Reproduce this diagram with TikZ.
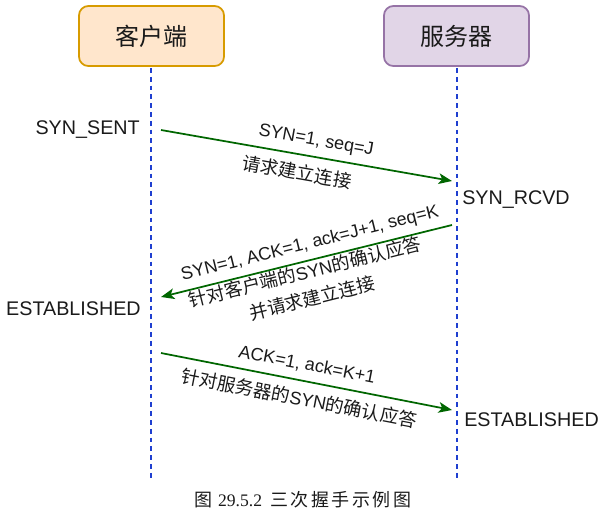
\documentclass[tikz,border=0pt]{standalone}
\usepackage{fontspec}
\setmainfont{Liberation Sans}
\newfontfamily\cjkbase{Noto Sans CJK SC}
\newcommand{\cjk}{\cjkbase\fontsize{13.8}{16}\selectfont}
\newfontfamily\capcjk[LetterSpace=14]{Noto Sans CJK SC}
\newfontfamily\capserif{Liberation Serif}
\usetikzlibrary{arrows.meta}
\definecolor{clientfill}{HTML}{FFE6CC}
\definecolor{clientdraw}{HTML}{D79B00}
\definecolor{serverfill}{HTML}{E1D5E7}
\definecolor{serverdraw}{HTML}{9673A6}
\definecolor{lifeblue}{HTML}{1F3FD0}
\definecolor{msggreen}{HTML}{006600}
\definecolor{txt}{HTML}{1A1A1A}
\tikzset{
  actor/.style={rounded corners=7pt, line width=1.3pt, minimum width=108.75pt, minimum height=45pt,
    font=\cjkbase\fontsize{18}{20}\selectfont, text=txt},
  clientbox/.style={actor, fill=clientfill, draw=clientdraw},
  serverbox/.style={actor, fill=serverfill, draw=serverdraw},
  life/.style={draw=lifeblue, line width=1.4pt, dash pattern=on 3.6pt off 3pt},
  msg/.style={draw=msggreen, line width=1.3pt, -{Stealth[length=10pt,width=8pt,inset=2.5pt]}},
  state/.style={font=\fontsize{14.8}{17}\selectfont, text=txt, inner sep=0pt},
  lbl/.style={font=\fontsize{13.5}{16}\selectfont, text=txt, inner sep=0pt, align=center},
}
\begin{document}
\begin{tikzpicture}[x=0.75pt,y=-0.75pt]
\useasboundingbox (0,0) rectangle (615,519);
% actors
\node[clientbox] (client) at (151.5,36) {客户端};
\node[serverbox] (server) at (456.5,36) {服务器};
% lifelines
\coordinate (ctop) at (151,68);
\coordinate (cbot) at (151,480);
\coordinate (stop) at (457,68);
\coordinate (sbot) at (457,480);
\draw[life] (ctop) -- (cbot);
\draw[life] (stop) -- (sbot);
% message endpoints
\coordinate (m1s) at (161,130);
\coordinate (m1e) at (452,181);
\coordinate (m2s) at (452,225);
\coordinate (m2e) at (161,297);
\coordinate (m3s) at (161,353);
\coordinate (m3e) at (452,410);
\draw[msg] (m1s) -- (m1e);
\draw[msg] (m2s) -- (m2e);
\draw[msg] (m3s) -- (m3e);
% labels
\node[lbl, rotate=-10] (l1a) at (316,141) {SYN=1, seq=J};
\node[lbl, rotate=-10] (l1b) at (297,172) {\cjk 请求建立连接};
\node[lbl, rotate=14] (l2a) at (310,244) {SYN=1, ACK=1, ack=J+1, seq=K};
\node[lbl, rotate=14] (l2b) at (305,272) {{\cjk 针对客户端的}SYN{\cjk 的确认应答}};
\node[lbl, rotate=14] (l2c) at (312,298) {\cjk 并请求建立连接};
\node[lbl, rotate=-11] (l3a) at (307,365) {ACK=1, ack=K+1};
\node[lbl, rotate=-11] (l3b) at (299,398) {{\cjk 针对服务器的}SYN{\cjk 的确认应答}};
% states
\node[state, anchor=east] (s1) at (140,130) {SYN\_SENT};
\node[state, anchor=east] (s2) at (141,309) {ESTABLISHED};
\node[state, anchor=west] (s3) at (462,200) {SYN\_RCVD};
\node[state, anchor=west] (s4) at (464,420) {ESTABLISHED};
% caption
\node[inner sep=0pt, text=txt] (cap) at (303,500) {{\capcjk\fontsize{13.5}{15}\selectfont 图}\hspace{4pt}{\capserif\fontsize{13.2}{15}\selectfont 29.5.2}\hspace{6pt}{\capcjk\fontsize{13.5}{15}\selectfont 三次握手示例图}};
\end{tikzpicture}
\end{document}
